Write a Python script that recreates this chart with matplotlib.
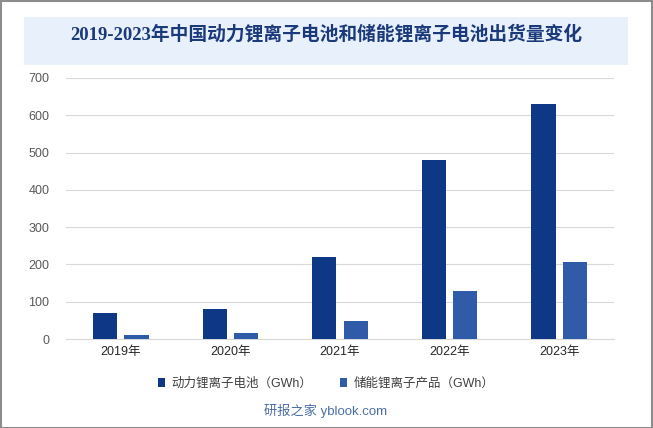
import numpy as np
import matplotlib.pyplot as plt
from matplotlib.patches import Rectangle

plt.rcParams['font.family'] = ['Liberation Sans', 'Noto Sans CJK SC', 'DejaVu Sans']

years = ['2019年', '2020年', '2021年', '2022年', '2023年']
power = [71, 80, 220, 480, 630]
storage = [9.5, 16, 48, 130, 206]
labels = ['动力锂离子电池（GWh）', '储能锂离子产品（GWh）']
colors = ['#0E3786', '#2F5BA9']

W, H = 653, 428
fig = plt.figure(figsize=(W / 100, H / 100), dpi=100)

# outer border
fig.patches.append(Rectangle((0.5 / W, 0.5 / H), 1 - 1.5 / W, 1 - 1.5 / H, transform=fig.transFigure,
                             fill=False, edgecolor='#8c8c8c', linewidth=1.5))
# title box
fig.patches.append(Rectangle((24 / W, 1 - 65 / H), 604 / W, 47.5 / H, transform=fig.transFigure,
                             facecolor='#E8F0FB', edgecolor='none'))
fig.text(326 / W, 1 - 34 / H, '2019-2023年中国动力锂离子电池和储能锂离子电池出货量变化',
         ha='center', va='center', fontsize=13.5, fontweight='bold', color='#1B3A7C',
         family=['Liberation Serif', 'Noto Sans CJK SC'])

ax = fig.add_axes([66 / W, 1 - 339 / H, 548 / W, 261 / H])
x = np.arange(len(years))
w = 0.22
ax.bar(x - 0.143, power, w, color=colors[0], label=labels[0], zorder=3)
ax.bar(x + 0.143, storage, w, color=colors[1], label=labels[1], zorder=3)

ax.set_xlim(-0.5, 4.5)
ax.set_ylim(0, 700)
ax.set_yticks(range(0, 701, 100))
ax.set_xticks(x)
ax.set_xticklabels(years)
ax.grid(axis='y', color='#d9d9d9', linewidth=0.8, zorder=0)
for s in ['top', 'right', 'left']:
    ax.spines[s].set_visible(False)
ax.spines['bottom'].set_color('#d9d9d9')
ax.tick_params(axis='both', length=0, labelsize=9, colors='#595959')
ax.tick_params(axis='y', pad=12)
ax.tick_params(axis='x', pad=5)
for t in ax.get_xticklabels():
    t.set_color('#262626')

fig.legend(loc='center', bbox_to_anchor=(326 / W, 1 - 384 / H), ncol=2, frameon=False,
           fontsize=9, handlelength=0.6, handleheight=0.7, columnspacing=2.2, handletextpad=0.5,
           labelcolor='#404040')

fig.text(326 / W, 1 - 411 / H, '研报之家 yblook.com', ha='center', va='center', fontsize=9.5, color='#4A6FA5')

fig.savefig('out.png', dpi=100)
